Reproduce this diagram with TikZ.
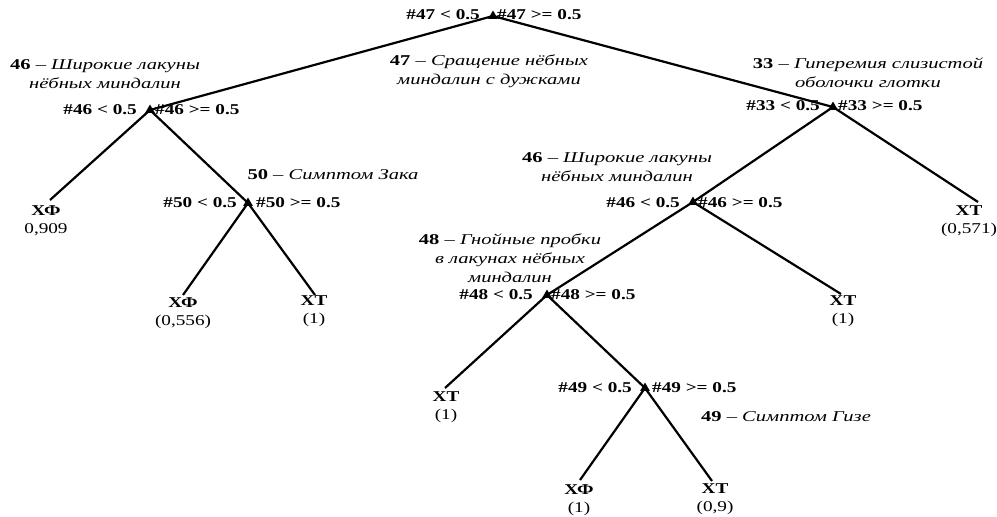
\documentclass[tikz,border=0pt]{standalone}
\usepackage{fontspec}
\setmainfont{Liberation Serif}
\usepackage{graphicx}
\usetikzlibrary{shapes.geometric}
\newcommand{\sx}[1]{\scalebox{1.28}[1]{#1}}
\newcommand{\sd}[1]{\scalebox{1.37}[1]{#1}}
\tikzset{
  edge/.style={line width=2.2pt},
  split/.style={regular polygon, regular polygon sides=3, fill=black, inner sep=0pt, minimum size=11pt},
  cond/.style={font=\fontsize{15}{17}\selectfont\bfseries, inner sep=0pt},
  desc/.style={font=\fontsize{15}{19}\selectfont, align=center, inner sep=0pt},
  leaf/.style={font=\fontsize{15}{18}\selectfont, align=center, inner sep=0pt}
}
\begin{document}
\begin{tikzpicture}[x=1pt,y=-1pt]
\useasboundingbox (0,0) rectangle (997,517);
% split nodes
\node[split] (r) at (493,16) {};
\node[split] (a) at (150,110) {};
\node[split] (b) at (833,107) {};
\node[split] (c) at (248,203) {};
\node[split] (d) at (693,202) {};
\node[split] (e) at (547,295) {};
\node[split] (f) at (645,388) {};
% leaf ends
\coordinate (e1) at (50,200);
\coordinate (e2) at (183,295);
\coordinate (e3) at (315,295);
\coordinate (e4) at (978,202);
\coordinate (e5) at (841,294);
\coordinate (e6) at (445,388);
\coordinate (e7) at (580,480);
\coordinate (e8) at (712,481);
% edges
\draw[edge] (r.center) -- (a.center);
\draw[edge] (r.center) -- (b.center);
\draw[edge] (a.center) -- (e1);
\draw[edge] (a.center) -- (c.center);
\draw[edge] (c.center) -- (e2);
\draw[edge] (c.center) -- (e3);
\draw[edge] (b.center) -- (d.center);
\draw[edge] (b.center) -- (e4);
\draw[edge] (d.center) -- (e.center);
\draw[edge] (d.center) -- (e5);
\draw[edge] (e.center) -- (e6);
\draw[edge] (e.center) -- (f.center);
\draw[edge] (f.center) -- (e7);
\draw[edge] (f.center) -- (e8);
% condition labels
\node[cond, anchor=east] (rl) at (480,15) {\sx{\#47 < 0.5}};
\node[cond, anchor=west] (rr) at (497,15) {\sx{\#47 >= 0.5}};
\node[cond, anchor=east] (al) at (137,110) {\sx{\#46 < 0.5}};
\node[cond, anchor=west] (ar) at (155,110) {\sx{\#46 >= 0.5}};
\node[cond, anchor=east] (bl) at (820,106) {\sx{\#33 < 0.5}};
\node[cond, anchor=west] (br) at (838,106) {\sx{\#33 >= 0.5}};
\node[cond, anchor=east] (cl) at (237,203) {\sx{\#50 < 0.5}};
\node[cond, anchor=west] (cr) at (256,203) {\sx{\#50 >= 0.5}};
\node[cond, anchor=east] (dl) at (680,203) {\sx{\#46 < 0.5}};
\node[cond, anchor=west] (dr) at (698,203) {\sx{\#46 >= 0.5}};
\node[cond, anchor=east] (el) at (533,295) {\sx{\#48 < 0.5}};
\node[cond, anchor=west] (er) at (551,295) {\sx{\#48 >= 0.5}};
\node[cond, anchor=east] (fl) at (632,388) {\sx{\#49 < 0.5}};
\node[cond, anchor=west] (fr) at (652,388) {\sx{\#49 >= 0.5}};
% descriptions
\node[desc] (d47) at (489,71) {\sd{\textbf{47} – \textit{Сращение нёбных}}\\\sd{\textit{миндалин с дужками}}};
\node[desc] (d46a) at (105,74) {\sd{\textbf{46} – \textit{Широкие лакуны}}\\\sd{\textit{нёбных миндалин}}};
\node[desc] (d33) at (868,73) {\sd{\textbf{33} – \textit{Гиперемия слизистой}}\\\sd{\textit{оболочки глотки}}};
\node[desc] (d50) at (333,175) {\sd{\textbf{50} – \textit{Симптом Зака}}};
\node[desc] (d46b) at (617,167) {\sd{\textbf{46} – \textit{Широкие лакуны}}\\\sd{\textit{нёбных миндалин}}};
\node[desc] (d48) at (510,258) {\sd{\textbf{48} – \textit{Гнойные пробки}}\\\sd{\textit{в лакунах нёбных}}\\\sd{\textit{миндалин}}};
\node[desc] (d49) at (786,417) {\sd{\textbf{49} – \textit{Симптом Гизе}}};
% leaves
\node[leaf] (l1) at (46,221) {\sx{\textbf{ХФ}}\\\sx{0,909}};
\node[leaf] (l2) at (183,313) {\sx{\textbf{ХФ}}\\\sx{(0,556)}};
\node[leaf] (l3) at (314,311) {\sx{\textbf{ХТ}}\\\sx{(1)}};
\node[leaf] (l4) at (969,221) {\sx{\textbf{ХТ}}\\\sx{(0,571)}};
\node[leaf] (l5) at (843,311) {\sx{\textbf{ХТ}}\\\sx{(1)}};
\node[leaf] (l6) at (446,407) {\sx{\textbf{ХТ}}\\\sx{(1)}};
\node[leaf] (l7) at (579,500) {\sx{\textbf{ХФ}}\\\sx{(1)}};
\node[leaf] (l8) at (715,499) {\sx{\textbf{ХТ}}\\\sx{(0,9)}};
\end{tikzpicture}
\end{document}
